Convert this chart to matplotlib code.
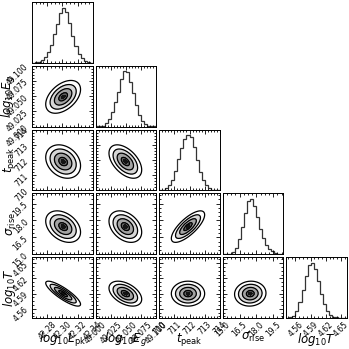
import numpy as np
import matplotlib
matplotlib.use("Agg")
import matplotlib.pyplot as plt
from matplotlib.ticker import FixedLocator, FormatStrFormatter, AutoMinorLocator, NullLocator

# parameter labels and the plotted range of each parameter
labels = [r"$log_{10}L_{\rm pk}$", r"$log_{10}E_g$", r"$t_{\rm peak}$",
          r"$\sigma_{\rm rise}$", r"$log_{10}T$"]
ranges = [(42.26, 42.34), (49.0, 49.1), (710.0, 714.0), (15.0, 20.4), (4.542, 4.662)]
tick_vals = [[42.28, 42.30, 42.32, 42.34],
             [49.000, 49.025, 49.050, 49.075, 49.100],
             [710, 711, 712, 713, 714],
             [15.0, 16.5, 18.0, 19.5],
             [4.56, 4.59, 4.62, 4.65]]
tick_fmt = ["%.2f", "%.3f", "%d", "%.1f", "%.2f"]

# 1D marginals, 20 bins each, normalised to the peak bin
hist_L = [0.003, 0.01, 0.02, 0.05, 0.10, 0.19, 0.33, 0.52, 0.70, 0.90,
          1.00, 0.92, 0.72, 0.49, 0.30, 0.16, 0.08, 0.03, 0.01, 0.004]
hist_E = [0.002, 0.006, 0.02, 0.06, 0.14, 0.27, 0.45, 0.62, 0.86, 1.00,
          0.99, 0.80, 0.60, 0.40, 0.21, 0.10, 0.045, 0.015, 0.005, 0.002]
hist_t = [0.004, 0.012, 0.035, 0.09, 0.19, 0.36, 0.56, 0.77, 0.93, 1.00,
          0.97, 0.78, 0.55, 0.34, 0.19, 0.09, 0.04, 0.015, 0.005, 0.002]
hist_s = [0.0, 0.003, 0.01, 0.04, 0.12, 0.28, 0.50, 0.75, 0.97, 1.00,
          0.87, 0.67, 0.46, 0.30, 0.17, 0.09, 0.05, 0.025, 0.01, 0.004]
hist_T = [0.002, 0.01, 0.04, 0.12, 0.28, 0.50, 0.76, 0.96, 1.00, 0.88,
          0.66, 0.44, 0.26, 0.13, 0.06, 0.025, 0.01, 0.004, 0.001, 0.0]
hists = [hist_L, hist_E, hist_t, hist_s, hist_T]

# centres, widths and pairwise correlations
means = [42.301, 49.049, 711.9, 17.45, 4.590]
stds = [0.0115, 0.0135, 0.55, 0.70, 0.0123]
corr = np.array([
    [1.00, 0.45, -0.25, -0.35, -0.85],
    [0.45, 1.00, -0.50, -0.35, -0.45],
    [-0.25, -0.50, 1.00, 0.75, 0.00],
    [-0.35, -0.35, 0.75, 1.00, 0.05],
    [-0.85, -0.45, 0.00, 0.05, 1.00],
])

n = len(labels)
# density levels of the 2, 1.5, 1 and 0.5 sigma contours (relative to peak)
sig_levels = np.exp(-0.5 * np.array([2.0, 1.5, 1.0, 0.5]) ** 2)
fill_levels = list(sig_levels) + [0.975, 1.01]
fill_colors = ["white", "0.84", "0.64", "0.38", "0.08"]

fig, axes = plt.subplots(n, n, figsize=(3.49, 3.49), dpi=100)
fig.subplots_adjust(left=0.092, right=0.994, bottom=0.089, top=0.994,
                    wspace=0.05, hspace=0.05)


def style_axis(axis, k):
    axis.set_major_locator(FixedLocator(tick_vals[k]))
    axis.set_major_formatter(FormatStrFormatter(tick_fmt[k]))
    axis.set_minor_locator(AutoMinorLocator())


for i in range(n):
    for j in range(n):
        ax = axes[i, j]
        if j > i:
            ax.set_axis_off()
            continue

        if i == j:
            edges = np.linspace(ranges[i][0], ranges[i][1], len(hists[i]) + 1)
            ax.stairs(hists[i], edges, color="#333333", lw=0.9)
            ax.set_ylim(0, 1.1 * max(hists[i]))
            ax.yaxis.set_major_locator(NullLocator())
        else:
            xs = np.linspace(ranges[j][0], ranges[j][1], 150)
            ys = np.linspace(ranges[i][0], ranges[i][1], 150)
            X, Y = np.meshgrid(xs, ys)
            dx = (X - means[j]) / stds[j]
            dy = (Y - means[i]) / stds[i]
            r = corr[i, j]
            Z = np.exp(-0.5 * (dx**2 - 2 * r * dx * dy + dy**2) / (1 - r**2))
            ax.contourf(X, Y, Z, levels=fill_levels, colors=fill_colors)
            ax.contour(X, Y, Z, levels=sig_levels, colors="k", linewidths=0.9)
            ax.set_ylim(ranges[i])
            style_axis(ax.yaxis, i)

        ax.set_xlim(ranges[j])
        style_axis(ax.xaxis, j)
        ax.tick_params(which="both", direction="in", top=True, right=True,
                       labelsize=5.5, width=0.6, pad=1.5)
        ax.tick_params(which="major", length=3)
        ax.tick_params(which="minor", length=1.5)
        for sp in ax.spines.values():
            sp.set_linewidth(0.7)

        if i == n - 1:
            ax.set_xlabel(labels[j], fontsize=8.5)
            ax.xaxis.set_label_coords(0.5, -0.22)
            for lab in ax.get_xticklabels():
                lab.set_rotation(45)
        else:
            ax.set_xticklabels([])

        if j == 0 and i > 0:
            ax.set_ylabel(labels[i], fontsize=8.5)
            ax.yaxis.set_label_coords(-0.24, 0.5)
            for lab in ax.get_yticklabels():
                lab.set_rotation(45)
        else:
            ax.set_yticklabels([])

fig.savefig("out.png", dpi=100)
